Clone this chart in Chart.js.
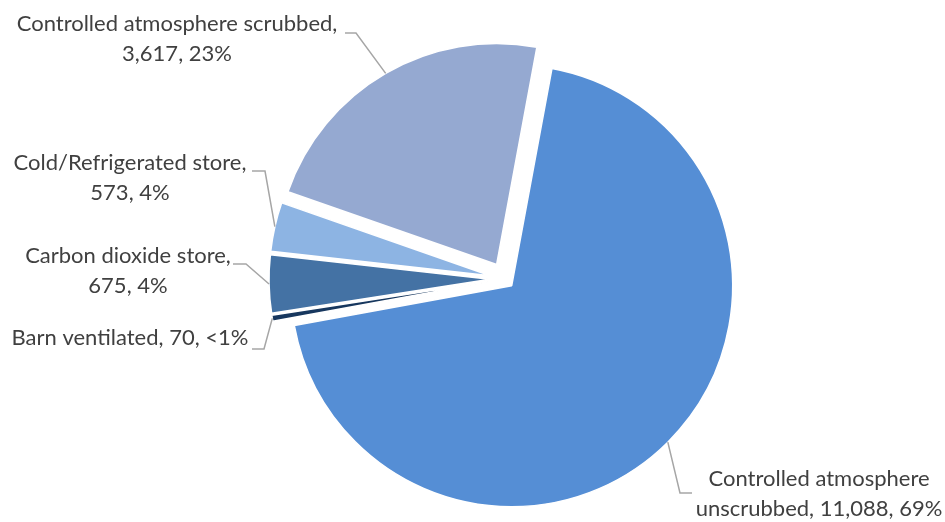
<!DOCTYPE html>
<html>
<head>
<meta charset="utf-8">
<script src="https://cdn.jsdelivr.net/npm/chart.js@4"></script>
<style>
  html, body { margin: 0; padding: 0; background: #ffffff; }
  #wrap { width: 945px; height: 522px; position: relative; }
</style>
</head>
<body>
<div id="wrap"><canvas id="chart" width="945" height="522"></canvas></div>
<script>
// Storage types and number of stores in each
const categories = [
  'Controlled atmosphere unscrubbed',
  'Barn ventilated',
  'Carbon dioxide store',
  'Cold/Refrigerated store',
  'Controlled atmosphere scrubbed'
];
const storeCounts = [11088, 70, 675, 573, 3617];

const sliceColors = ['#558ED5', '#17375E', '#4472A4', '#8DB4E3', '#95A9D1'];
// how far each slice is pulled out from the centre, in px
const explode = [9.5, 15, 15, 15, 16.7];

// label placement: text centre x, first baseline y, words on first line,
// and where the leader line leaves the text (start, elbow)
const labelLayout = [
  { x: 819, y: 486, breakAfter: 2, lead: [[692, 493], [680, 493]] },
  { x: 130, y: 345, breakAfter: 0, lead: [[252, 349], [264, 349]] },
  { x: 128, y: 263, breakAfter: 3, lead: [[233, 264], [246, 264]] },
  { x: 130, y: 170, breakAfter: 2, lead: [[252, 171], [265, 171]] },
  { x: 177, y: 31,  breakAfter: 3, lead: [[345, 33], [356, 33]] }
];
const lineHeight = 30;

const total = storeCounts.reduce((a, b) => a + b, 0);

function labelLines(i) {
  const v = storeCounts[i];
  const p = Math.round(v / total * 100);
  const pct = p < 1 ? '<1%' : p + '%';
  const full = `${categories[i]}, ${v.toLocaleString('en-US')}, ${pct}`;
  const n = labelLayout[i].breakAfter;
  if (!n) return [full];
  const words = full.split(' ');
  return [words.slice(0, n).join(' '), words.slice(n).join(' ')];
}

// pull slices out along their mid angle
const explodePlugin = {
  id: 'explodeSlices',
  afterDatasetUpdate(chart, args) {
    args.meta.data.forEach((arc, i) => {
      const mid = (arc.startAngle + arc.endAngle) / 2;
      arc.x += Math.cos(mid) * explode[i];
      arc.y += Math.sin(mid) * explode[i];
    });
  }
};

// data labels with leader lines to the slice edge
const labelPlugin = {
  id: 'sliceLabels',
  afterDraw(chart) {
    const ctx = chart.ctx;
    const arcs = chart.getDatasetMeta(0).data;
    ctx.save();
    arcs.forEach((arc, i) => {
      const L = labelLayout[i];
      const mid = (arc.startAngle + arc.endAngle) / 2;
      const ex = arc.x + Math.cos(mid) * arc.outerRadius;
      const ey = arc.y + Math.sin(mid) * arc.outerRadius;
      ctx.strokeStyle = '#A6A6A6';
      ctx.lineWidth = 1.5;
      ctx.beginPath();
      ctx.moveTo(L.lead[0][0], L.lead[0][1]);
      ctx.lineTo(L.lead[1][0], L.lead[1][1]);
      ctx.lineTo(ex, ey);
      ctx.stroke();

      ctx.fillStyle = '#404040';
      ctx.font = '22px Lato, "Open Sans", sans-serif';
      ctx.textAlign = 'center';
      ctx.textBaseline = 'alphabetic';
      labelLines(i).forEach((t, k) => ctx.fillText(t, L.x, L.y + k * lineHeight));
    });
    ctx.restore();
  }
};

new Chart(document.getElementById('chart'), {
  type: 'pie',
  data: {
    labels: categories,
    datasets: [{
      data: storeCounts,
      backgroundColor: sliceColors,
      borderColor: '#ffffff',
      borderWidth: 1.5
    }]
  },
  options: {
    responsive: false,
    animation: false,
    events: [],
    rotation: 10.5,
    radius: 221,
    layout: { padding: { left: 65, right: 0, top: 36, bottom: 0 } },
    plugins: {
      legend: { display: false },
      tooltip: { enabled: false }
    }
  },
  plugins: [explodePlugin, labelPlugin]
});
</script>
</body>
</html>
